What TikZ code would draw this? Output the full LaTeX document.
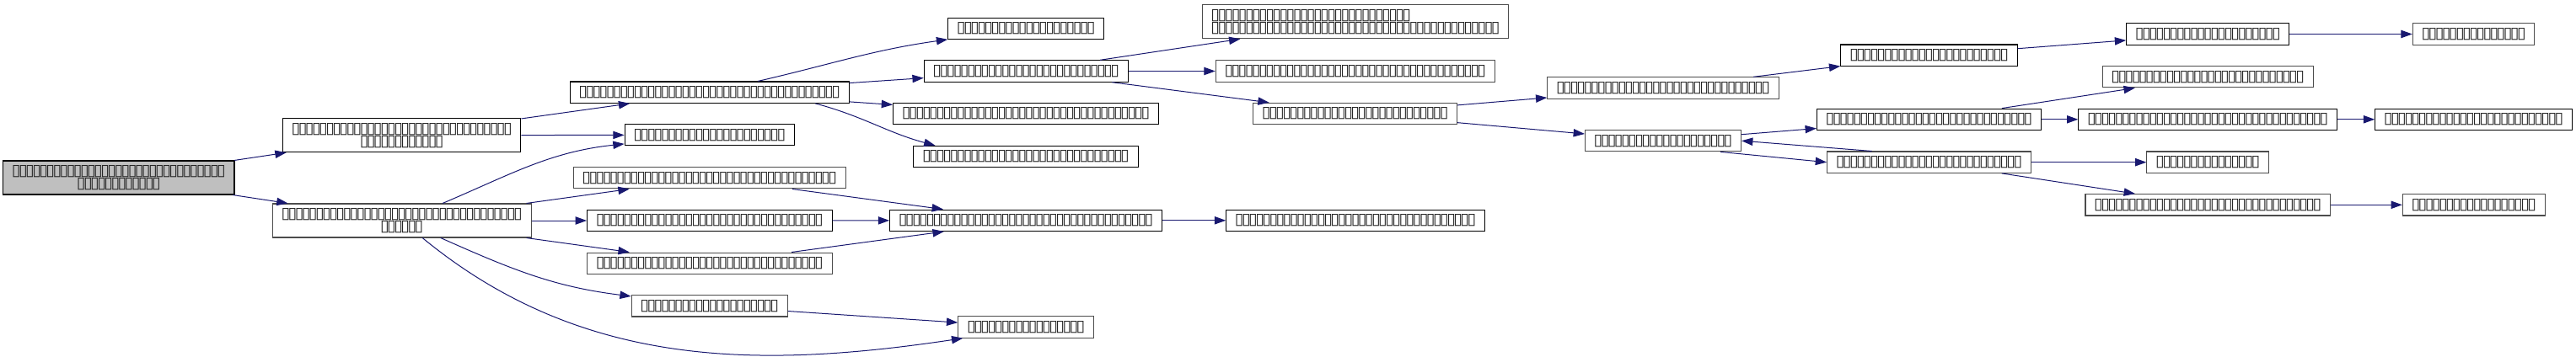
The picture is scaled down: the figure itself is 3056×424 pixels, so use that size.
\documentclass[tikz,border=0pt]{standalone}
\usepackage{fontspec}
\usepackage{graphicx}
\usepackage{tikz}
\usetikzlibrary{arrows.meta}
\newfontfamily\tofufont{DejaVu Sans}
\definecolor{callblue}{HTML}{191970}
\def\tofuglyph{\makebox[6.08pt]{\resizebox{8pt}{9pt}{\tofufont ▯}}}
\def\tofu#1{\foreach \k in {1,...,#1}{\tofuglyph}}
\def\fnnode{\node[fn]}
\def\greynode{\node[fn,draw=black!70]}
\def\drawcall{\draw[call]}

\begin{document}
\begin{tikzpicture}[x=0.75pt,y=0.75pt,
  fn/.style={draw=black,line width=0.8pt,fill=white,text=black!85,inner xsep=8.6pt,inner ysep=0pt,
    minimum height=19pt,font=\fontsize{9pt}{11.25pt}\selectfont},
  tall/.style={minimum height=30pt,align=center},
  call/.style={draw=callblue,line width=0.75pt,-{Triangle[length=10pt,width=7pt]}}]
\useasboundingbox (0,0) rectangle (3056,-424);
% root
\fnnode[tall,fill=black!25] (main) at (140.9,-211) {\tofu{31}\\\tofu{12}};
% first level
\fnnode[tall] (a1) at (476.7,-160.7) {\tofu{32}\\\tofu{12}};
\greynode[tall] (a2) at (476.7,-262) {\tofu{35}\\\tofu{6}};
% second level
\fnnode (b1) at (841.7,-109.7) {\tofu{38}};
\fnnode (b2) at (841.8,-160.3) {\tofu{22}};
\greynode (b3) at (841.7,-211.3) {\tofu{37}};
\fnnode (b4) at (841.8,-262) {\tofu{33}};
\greynode (b5) at (841.8,-312.7) {\tofu{33}};
\greynode (b6) at (841.8,-363.3) {\tofu{20}};
% third level
\fnnode (c1) at (1217.3,-33.8) {\tofu{20}};
\fnnode (c2) at (1217.2,-84.5) {\tofu{27}};
\fnnode (c3) at (1217,-135) {\tofu{36}};
\fnnode (c4) at (1217,-186) {\tofu{30}};
\fnnode (c5) at (1217.1,-261.8) {\tofu{37}};
\greynode (c6) at (1217.2,-388.5) {\tofu{17}};
% fourth level
\greynode[minimum height=30pt,align=left] (d1) at (1608,-25.8) {\tofu{29}\\\tofu{42}};
\greynode (d2) at (1607.8,-84.5) {\tofu{38}};
\greynode (d3) at (1607.7,-135) {\tofu{27}};
\fnnode (d4) at (1608.1,-261.8) {\tofu{35}};
% fifth level
\greynode (e1) at (1973,-104.5) {\tofu{31}};
\greynode (e2) at (1973,-167.2) {\tofu{20}};
% sixth level
\fnnode (f1) at (2288.5,-65.7) {\tofu{23}};
\fnnode (f2) at (2288.5,-141.8) {\tofu{30}};
\greynode (f3) at (2288.5,-192.7) {\tofu{27}};
% seventh level
\fnnode (g1) at (2619.3,-40.5) {\tofu{21}};
\greynode (g2) at (2619.2,-91.3) {\tofu{28}};
\fnnode (g3) at (2619.2,-141.8) {\tofu{35}};
\greynode (g4) at (2619.2,-192.7) {\tofu{15}};
\greynode (g5) at (2619.2,-243.3) {\tofu{33}};
% last level
\greynode (h1) at (2934.6,-40.5) {\tofu{15}};
\fnnode (h2) at (2934.6,-141.8) {\tofu{26}};
\greynode (h3) at (2934.8,-243.3) {\tofu{18}};
% calls
\drawcall (main) -- (a1);
\drawcall (main) -- (a2);
\drawcall (a1) -- (b1);
\drawcall (a1) -- (b2);
\drawcall (a2) to[out=23,in=186] (b2);
\drawcall (a2) -- (b3);
\drawcall (a2) -- (b4);
\drawcall (a2) -- (b5);
\drawcall (a2) to[out=-24,in=173] (b6);
\drawcall (a2.-40) .. controls (690,-438) and (900,-438) .. (c6.190);
\drawcall (b1) to[out=13,in=188] (c1);
\drawcall (b1) -- (c2);
\drawcall (b1) -- (c3);
\drawcall (b1.-6) to[out=-15,in=165] (c4.173);
\drawcall (b3) -- (c5);
\drawcall (b4) -- (c5);
\drawcall (b5) -- (c5);
\drawcall (b6) -- (c6);
\drawcall (c2) -- (d1);
\drawcall (c2) -- (d2);
\drawcall (c2) -- (d3);
\drawcall (c5) -- (d4);
\drawcall (d3) -- (e1);
\drawcall (d3) -- (e2);
\drawcall (e1) -- (f1);
\drawcall (e2) -- (f2);
\drawcall (e2.-11) -- (f3.180);
\drawcall (f3.169) -- (e2.0);
\drawcall (f1) -- (g1);
\drawcall (f2) -- (g2);
\drawcall (f2) -- (g3);
\drawcall (f3) -- (g4);
\drawcall (f3) -- (g5);
\drawcall (g1) -- (h1);
\drawcall (g3) -- (h2);
\drawcall (g5) -- (h3);
\end{tikzpicture}
\end{document}
